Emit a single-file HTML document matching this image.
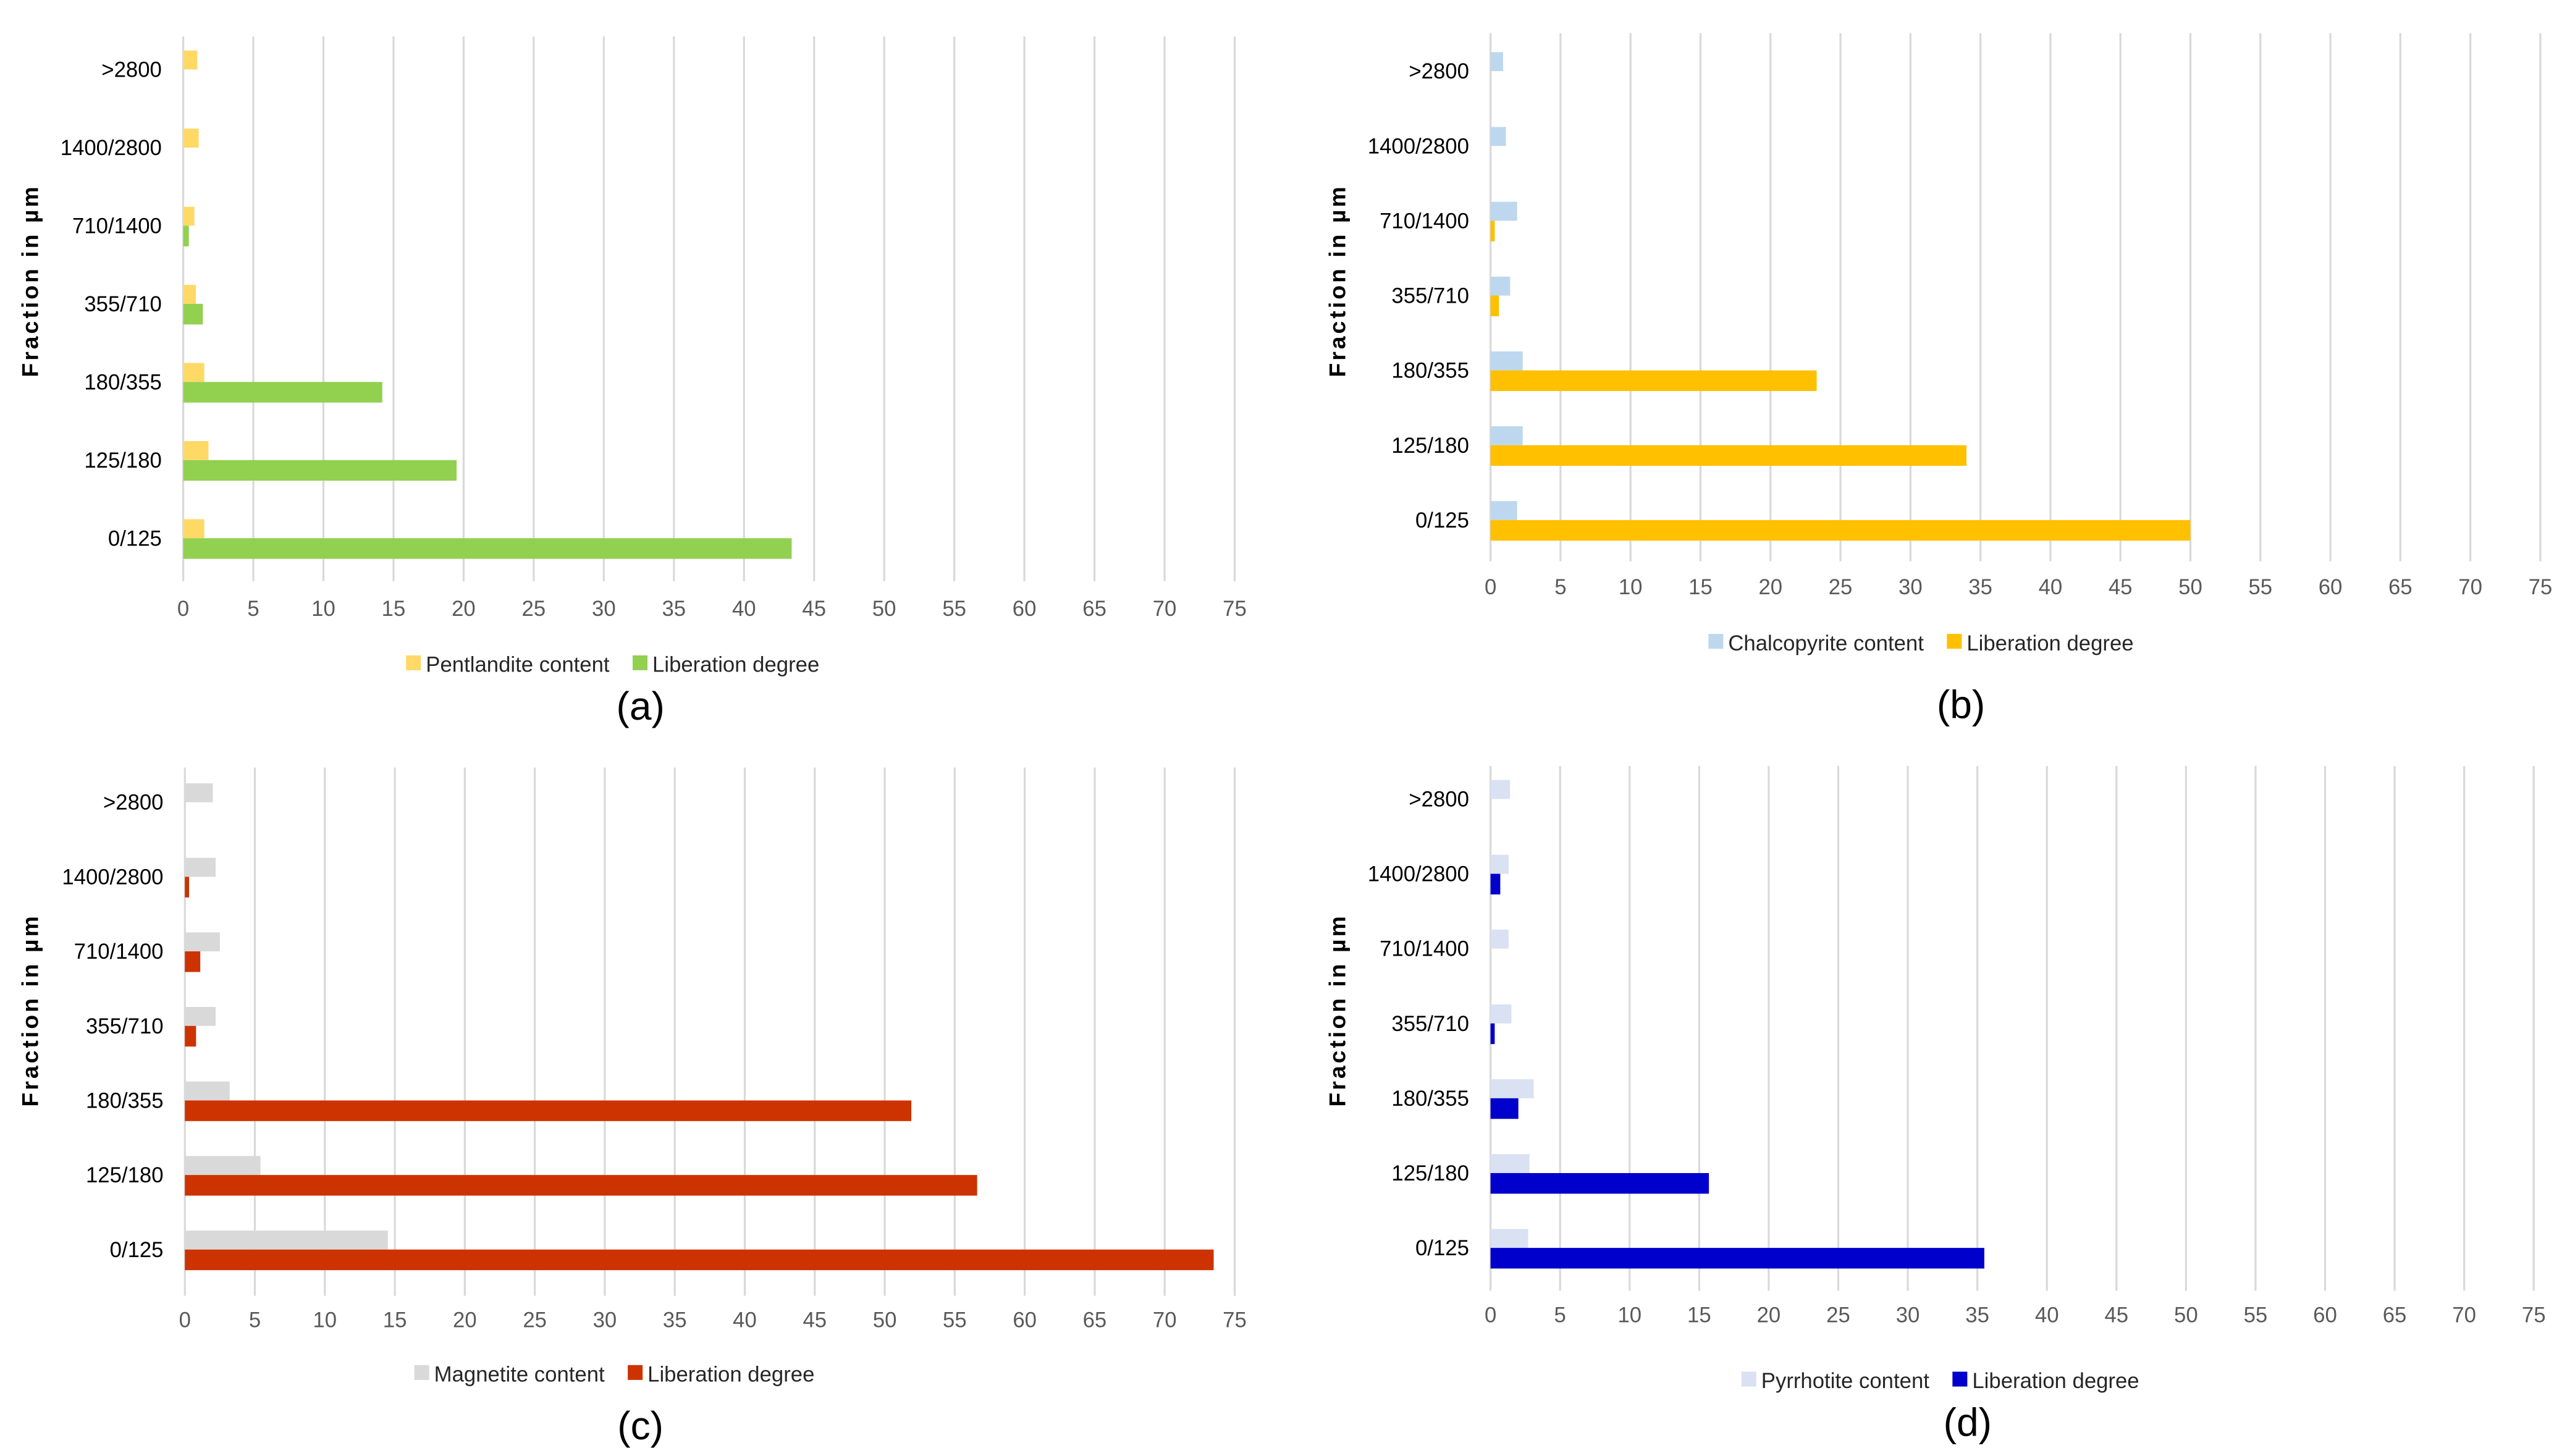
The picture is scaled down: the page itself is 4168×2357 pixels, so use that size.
<!DOCTYPE html>
<html><head><meta charset="utf-8"><style>
html,body{margin:0;padding:0;background:#fff;}
svg{display:block;}
text{font-family:"Liberation Sans",sans-serif;}
</style></head><body>
<svg id="fig" width="4168" height="2357" viewBox="0 0 1560 882" xmlns="http://www.w3.org/2000/svg"></svg>
<script>
const categories = ["0/125","125/180","180/355","355/710","710/1400","1400/2800",">2800"];
const ticks = [0,5,10,15,20,25,30,35,40,45,50,55,60,65,70,75];
const pentContent = [1.5,1.8,1.5,0.9,0.8,1.1,1.0];
const pentLib = [43.4,19.5,14.2,1.4,0.4,0,0];
const chalcoContent = [1.9,2.3,2.3,1.4,1.9,1.1,0.9];
const chalcoLib = [50,34,23.3,0.6,0.3,0,0];
const magContent = [14.5,5.4,3.2,2.2,2.5,2.2,2.0];
const magLib = [73.5,56.6,51.9,0.8,1.1,0.3,0];
const pyrContent = [2.7,2.8,3.1,1.5,1.3,1.3,1.4];
const pyrLib = [35.5,15.7,2.0,0.3,0,0.7,0];

const panels = [
 {id:"a",x0:111,x75:748,cTop:42,cBot:326,gTop:22,gBot:352,tickY:373,legY:406,capX:388,capY:436,titleX:18,titleY:170,
  c:pentContent,l:pentLib,cName:"Pentlandite content",cCol:"#ffd966",lCol:"#92d050",legX:246},
 {id:"b",x0:903,x75:1539,cTop:43,cBot:315,gTop:20,gBot:340,tickY:360,legY:393,capX:1188,capY:435,titleX:810,titleY:170,
  c:chalcoContent,l:chalcoLib,cName:"Chalcopyrite content",cCol:"#bdd7ee",lCol:"#ffc000",legX:1035},
 {id:"c",x0:112,x75:748,cTop:486,cBot:757,gTop:465,gBot:785,tickY:804,legY:836,capX:388,capY:872,titleX:18,titleY:612,
  c:magContent,l:magLib,cName:"Magnetite content",cCol:"#d9d9d9",lCol:"#cc3300",legX:251},
 {id:"d",x0:903,x75:1535,cTop:484,cBot:756,gTop:464,gBot:782,tickY:801,legY:840,capX:1192,capY:870,titleX:810,titleY:612,
  c:pyrContent,l:pyrLib,cName:"Pyrrhotite content",cCol:"#d9e1f2",lCol:"#0000cc",legX:1055}
];
const NS="http://www.w3.org/2000/svg";
const svg=document.getElementById("fig");
function mk(tag,attrs,parent){const e=document.createElementNS(NS,tag);for(const k in attrs)e.setAttribute(k,attrs[k]);(parent||svg).appendChild(e);return e;}
panels.forEach(p=>{
  const g=mk("g",{});
  
  
  const xs=v=>p.x0+(p.x75-p.x0)*v/75;
  const step=(p.cBot-p.cTop)/(categories.length-1);
  const ys=i=>p.cBot-i*step;
  ticks.forEach(t=>{
    const ln=mk("line",{x1:xs(t),x2:xs(t),y1:p.gTop,y2:p.gBot,stroke:"#d9d9d9","stroke-width":1.2},g);
    
    
    const tx=mk("text",{x:xs(t),y:p.tickY,"text-anchor":"middle","font-size":13,fill:"#595959"},g);
    tx.textContent=t;
    
    
  });
  const bh=11.5;
  categories.forEach((c,i)=>{
    const y=ys(i);
    const lb=mk("text",{x:p.x0-13,y:y+4.5,"text-anchor":"end","font-size":13,fill:"#000"},g);
    lb.textContent=c;
    
    
    const r1=mk("rect",{x:xs(0),y:y-bh,width:Math.max(0,xs(p.c[i])-xs(0)),height:bh,fill:p.cCol},g);
    
    
    const r2=mk("rect",{x:xs(0),y:y,width:Math.max(0,xs(p.l[i])-xs(0)),height:bh+1,fill:p.lCol},g);
    
    
  });
  const tt=mk("text",{x:0,y:0,"text-anchor":"middle","font-size":14,"font-weight":"bold","letter-spacing":1.5,fill:"#000",transform:`translate(${p.titleX+5},${p.titleY}) rotate(-90)`},g);
  tt.textContent="Fraction in µm";
  
  
  const s1=mk("rect",{x:p.legX,y:p.legY-9,width:9,height:9,fill:p.cCol},g);
  
  
  const l1=mk("text",{x:p.legX+12,y:p.legY+1,"font-size":13,fill:"#262626"},g);
  l1.textContent=p.cName;
  
  
  const lx=p.legX+12+l1.getComputedTextLength()+14;
  const s2=mk("rect",{x:lx,y:p.legY-9,width:9,height:9,fill:p.lCol},g);
  
  
  const l2=mk("text",{x:lx+12,y:p.legY+1,"font-size":13,fill:"#262626"},g);
  l2.textContent="Liberation degree";
  
  
  const cap=mk("text",{x:p.capX,y:p.capY,"text-anchor":"middle","font-size":24,fill:"#000"},g);
  cap.textContent="("+p.id+")";
  
  
});
</script>
</body></html>
